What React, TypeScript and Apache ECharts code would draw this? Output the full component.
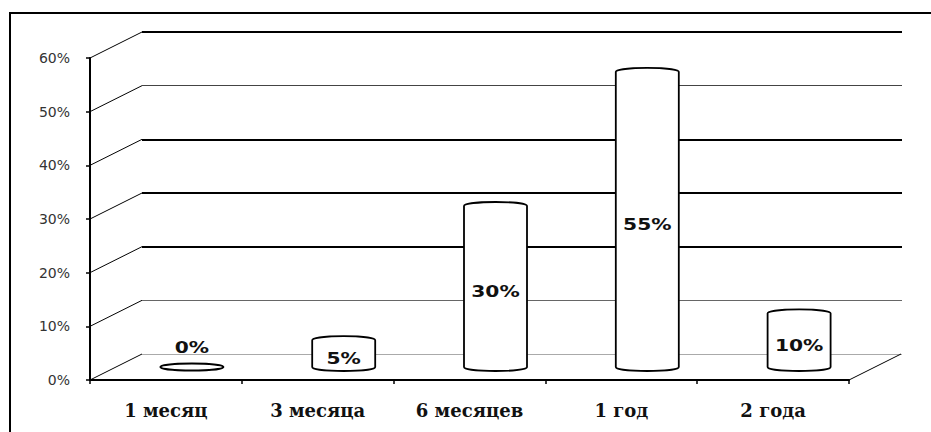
import React, { useEffect, useRef } from "react";
import * as echarts from "echarts";

const categories = ["1 месяц", "3 месяца", "6 месяцев", "1 год", "2 года"];
const values = [0, 0.05, 0.3, 0.55, 0.1];
const valueLabels = ["0%", "5%", "30%", "55%", "10%"];
const yTicks = [0, 0.1, 0.2, 0.3, 0.4, 0.5, 0.6];

// depth of the 3D box in pixels
const DX = 52;
const DY = -26;

export default function App() {
  const ref = useRef<HTMLDivElement>(null);

  useEffect(() => {
    if (!ref.current) return;
    const chart = echarts.init(ref.current, null, { renderer: "svg" });

    const option: any = {
      animation: false,
      backgroundColor: "#ffffff",
      graphic: [
        {
          type: "rect",
          silent: true,
          shape: { x: 10, y: 13, width: 940, height: 440 },
          style: { fill: "none", stroke: "#000", lineWidth: 2 },
        },
      ],
      grid: [
        { left: 90, top: 58, width: 759, height: 322 },
        { left: 90 + DX, top: 58 + DY, width: 759 + 1, height: 322 },
      ],
      xAxis: [
        {
          gridIndex: 0,
          type: "category",
          data: categories,
          boundaryGap: true,
          axisLine: { show: true, lineStyle: { color: "#000", width: 2 } },
          axisTick: { show: true, length: 4, lineStyle: { color: "#000", width: 1.5 } },
          axisLabel: {
            margin: 21,
            fontFamily: "DejaVu Serif",
            fontWeight: "bold",
            fontSize: 18,
            color: "#111",
          },
          splitLine: { show: false },
        },
        { gridIndex: 1, type: "category", data: categories, show: false },
      ],
      yAxis: [
        {
          gridIndex: 0,
          type: "value",
          min: 0,
          max: 0.6,
          interval: 0.1,
          axisLine: { show: true, lineStyle: { color: "#000", width: 2 } },
          axisTick: { show: true, length: 4, lineStyle: { color: "#000", width: 1.5 } },
          axisLabel: {
            margin: 20,
            formatter: (v: number) => Math.round(v * 100) + "%",
            fontFamily: "DejaVu Sans",
            fontSize: 14,
            color: "#333",
          },
          splitLine: { show: false },
        },
        {
          gridIndex: 1,
          type: "value",
          min: 0,
          max: 0.6,
          interval: 0.1,
          axisLine: { show: false },
          axisTick: { show: false },
          axisLabel: { show: false },
          splitLine: {
            show: true,
            lineStyle: { color: ["#aaa", "#666", "#000", "#000", "#000", "#444", "#000"], width: 1 },
          },
        },
        {
          gridIndex: 1,
          type: "value",
          min: 0,
          max: 0.6,
          interval: 0.1,
          axisLine: { show: false },
          axisTick: { show: false },
          axisLabel: { show: false },
          splitLine: {
            show: true,
            lineStyle: {
              color: [
                "rgba(0,0,0,0)",
                "rgba(0,0,0,0)",
                "#000",
                "#000",
                "#000",
                "rgba(0,0,0,0)",
                "#000",
              ],
              width: 2,
            },
          },
        },
      ],
      series: [
        {
          type: "custom",
          name: "walls",
          xAxisIndex: 0,
          yAxisIndex: 0,
          silent: true,
          data: yTicks.map((v) => [0, v]),
          renderItem: (params: any, api: any) => {
            const v = api.value(1);
            const p = api.coord([0, v]);
            const half = api.size([1, 0])[0] / 2;
            const x = p[0] - half;
            const children: any[] = [
              {
                type: "line",
                shape: { x1: x, y1: p[1], x2: x + DX, y2: p[1] + DY },
                style: { stroke: "#000", lineWidth: 1 },
              },
            ];
            if (params.dataIndex === 0) {
              const q = api.coord([categories.length - 1, 0]);
              const xr = q[0] + half;
              children.push({
                type: "line",
                shape: { x1: xr, y1: q[1], x2: xr + DX, y2: q[1] + DY },
                style: { stroke: "#000", lineWidth: 1 },
              });
            }
            return { type: "group", children };
          },
        },
        {
          type: "custom",
          name: "cylinders",
          xAxisIndex: 0,
          yAxisIndex: 0,
          silent: true,
          data: values.map((v, i) => [i, v]),
          renderItem: (params: any, api: any) => {
            const i = api.value(0);
            const v = api.value(1);
            const pTop = api.coord([i, v]);
            const pBase = api.coord([i, 0]);
            const bw = api.size([1, 0])[0] * 0.415;
            const cx = pTop[0] + DX / 2;
            const top = pTop[1] + DY / 2;
            const bot = pBase[1] + DY / 2;
            const rx = bw / 2;
            const x0 = cx - rx;
            const x1 = cx + rx;
            const text = valueLabels[params.dataIndex];
            if (v === 0) {
              return {
                type: "group",
                children: [
                  {
                    type: "ellipse",
                    shape: { cx, cy: bot, rx, ry: 3.5 },
                    style: { fill: "#fff", stroke: "#000", lineWidth: 2 },
                  },
                  {
                    type: "text",
                    x: cx,
                    y: bot - 19,
                    scaleX: 1.35,
                    style: {
                      text,
                      fontFamily: "DejaVu Sans",
                      fontWeight: "bold",
                      fontSize: 15,
                      fill: "#111",
                      align: "center",
                      verticalAlign: "middle",
                    },
                  },
                ],
              };
            }
            const ry = 4;
            const d =
              `M ${x0} ${top} L ${x0} ${bot} A ${rx} ${ry} 0 0 0 ${x1} ${bot} ` +
              `L ${x1} ${top} A ${rx} ${ry} 0 0 0 ${x0} ${top} Z`;
            return {
              type: "group",
              children: [
                {
                  type: "path",
                  shape: { pathData: d },
                  style: { fill: "#fff", stroke: "#000", lineWidth: 1.8 },
                },
                {
                  type: "text",
                  x: cx,
                  y: (top + bot) / 2 + 5,
                  scaleX: 1.35,
                  style: {
                    text,
                    fontFamily: "DejaVu Sans",
                    fontWeight: "bold",
                    fontSize: 15,
                    fill: "#111",
                    align: "center",
                    verticalAlign: "middle",
                  },
                },
              ],
            };
          },
        },
      ],
    };

    chart.setOption(option);
    return () => chart.dispose();
  }, []);

  return (
    <div
      ref={ref}
      style={{ position: "fixed", left: 0, top: 0, width: 931, height: 432, background: "#fff" }}
    />
  );
}
